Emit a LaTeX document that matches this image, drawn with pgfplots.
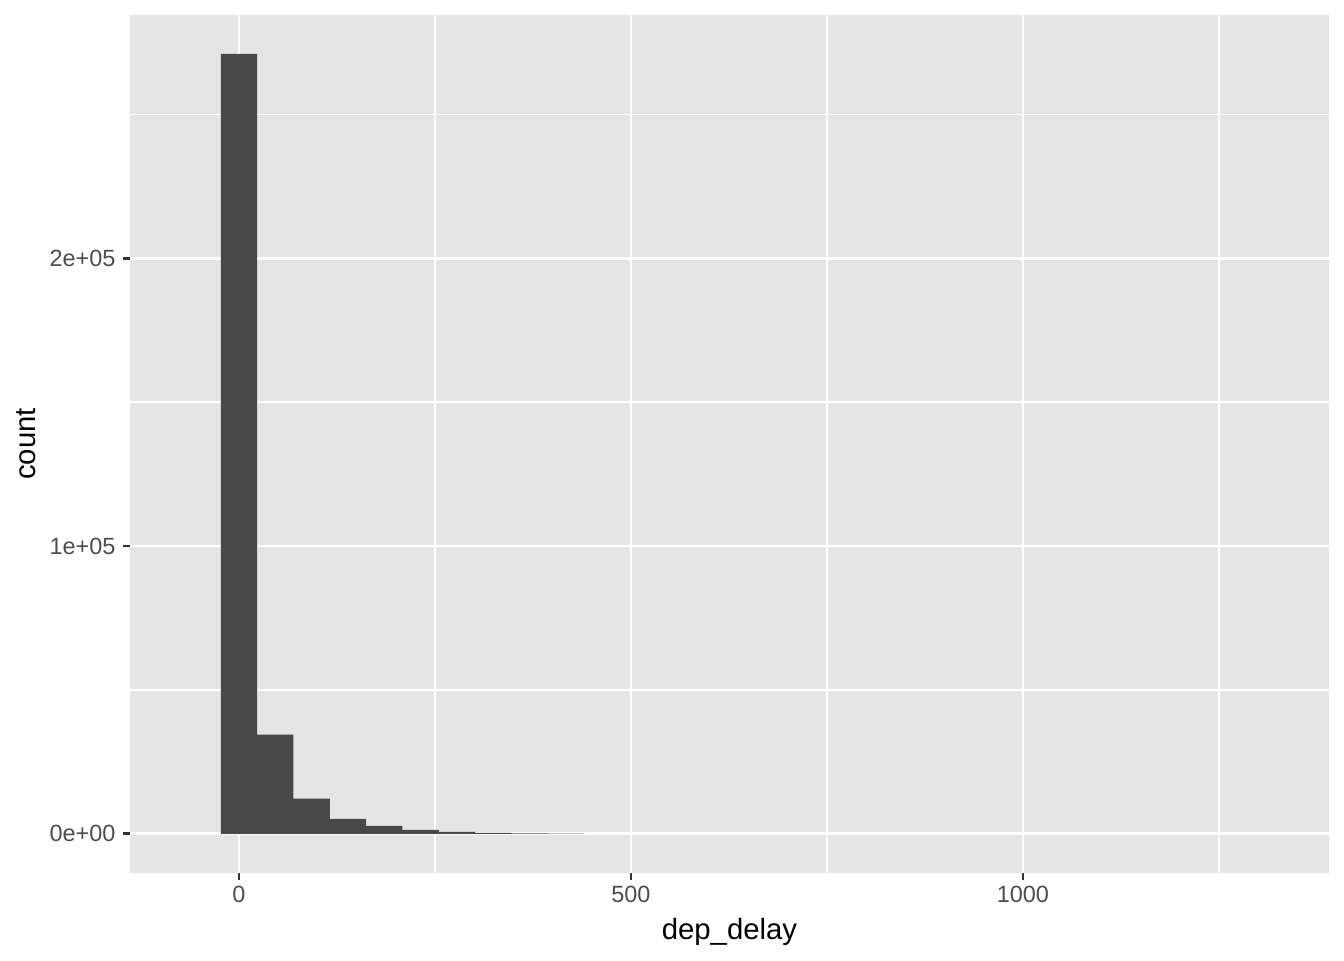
\documentclass[border=0pt]{standalone}
\usepackage{fontspec}
\setmainfont{Liberation Sans}
\usepackage{pgfplots}
\pgfplotsset{compat=1.18}
\definecolor{panel}{HTML}{E5E5E5}
\definecolor{barfill}{HTML}{484848}
\definecolor{ticklab}{HTML}{4D4D4D}
\definecolor{tickcol}{HTML}{333333}
\begin{document}
\begin{tikzpicture}
\path[use as bounding box] (0,0) rectangle (504pt,360pt);
\begin{axis}[
  at={(48.75pt,32.7pt)}, anchor=south west,
  scale only axis, width=449.6pt, height=321.7pt,
  xmin=-139, xmax=1390.3, ymin=-13550, ymax=284550,
  axis background/.style={fill=panel},
  axis line style={draw=none},
  xtick={0,500,1000}, xticklabels={0,500,1000},
  ytick={0,100000,200000},
  yticklabels={0e+00,1e+05,2e+05},
  scaled y ticks=false,
  minor xtick={250,750,1250}, minor ytick={50000,150000,250000},
  grid=both,
  major grid style={white, line width=1.07pt},
  minor grid style={white, line width=0.53pt},
  xtick pos=bottom, ytick pos=left,
  tick align=outside, major tick length=2.75pt, minor tick length=0pt,
  tick style={tickcol, line width=1.07pt},
  tick label style={font=\fontsize{8.8}{10}\selectfont, text=ticklab},
  xticklabel style={anchor=north, inner sep=0pt, yshift=-2.2pt},
  yticklabel style={anchor=east, inner sep=0pt, xshift=-2.5pt},
  xlabel={dep\_delay}, ylabel={count},
  label style={font=\fontsize{11}{13}\selectfont, text=black},
  xlabel style={at={(axis description cs:0.5,0)}, anchor=base, yshift=-24.9pt},
  ylabel style={at={(axis description cs:-0.0792,0.5)}, anchor=base},
]
% counts per bin (binwidth 46.345); bins with only a few flights are
% invisible at this scale and are left out
\addplot[ybar interval, fill=barfill, draw=none] coordinates {
(-23.17,271000) (23.17,34500) (69.52,12200) (115.86,5230)
(162.21,2790) (208.55,1390) (254.90,700) (301.24,350) (347.59,180)
(393.93,90) (440.28,0)
};
\end{axis}
\end{tikzpicture}
\end{document}
